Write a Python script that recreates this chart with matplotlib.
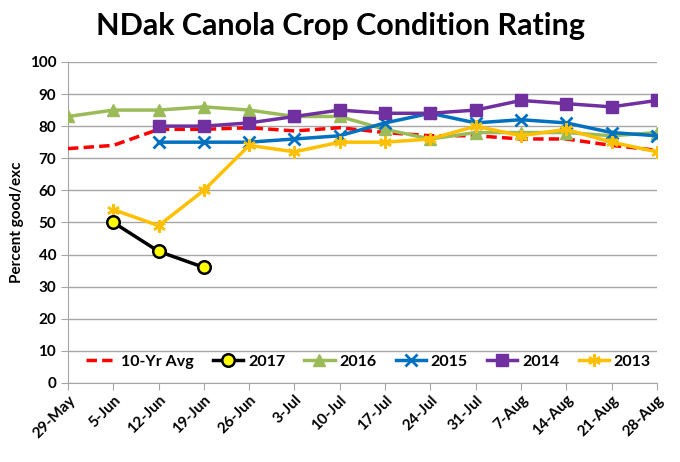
import numpy as np
import matplotlib.pyplot as plt

plt.rcParams['font.family'] = ['Lato', 'DejaVu Sans']

weeks = ['29-May', '5-Jun', '12-Jun', '19-Jun', '26-Jun', '3-Jul', '10-Jul',
         '17-Jul', '24-Jul', '31-Jul', '7-Aug', '14-Aug', '21-Aug', '28-Aug']
nan = np.nan
avg10 = [73, 74, 79, 79, 79.5, 78.5, 79.5, 78, 77, 77, 76, 76, 74, 72.5]
y2017 = [nan, 50, 41, 36, nan, nan, nan, nan, nan, nan, nan, nan, nan, nan]
y2016 = [83, 85, 85, 86, 85, 83, 83, 79, 76, 78, 78, 78, 77, 78]
y2015 = [nan, nan, 75, 75, 75, 76, 77, 81, 84, 81, 82, 81, 78, 77]
y2014 = [nan, nan, 80, 80, 81, 83, 85, 84, 84, 85, 88, 87, 86, 88]
y2013 = [nan, 54, 49, 60, 74, 72, 75, 75, 76, 80, 77, 79, 75, 72]

x = np.arange(len(weeks))

fig = plt.figure(figsize=(6.8, 4.62), dpi=100)
ax = fig.add_axes([0.1, 0.171, 0.866, 0.695])

ax.plot(x, avg10, color='#FF0000', lw=2.5, ls=(0, (3, 1.5)), label='10-Yr Avg', zorder=3)
ax.plot(x, y2017, color='black', lw=2.5, marker='o', ms=9, mfc='#FFFF00',
        mec='black', mew=1.8, label='2017', zorder=5)
ax.plot(x, y2016, color='#9BBB59', lw=2.5, marker='^', ms=8, label='2016', zorder=3)
ax.plot(x, y2015, color='#0070C0', lw=2.5, marker='x', ms=9, mew=2, label='2015', zorder=3)
ax.plot(x, y2014, color='#7030A0', lw=2.5, marker='s', ms=8, label='2014', zorder=4)
ax.plot(x, y2013, color='#FFC000', lw=2.5, marker=(6, 2, 0), ms=9, mew=1.8,
        mec='#FFC000', label='2013', zorder=4)

ax.set_xlim(0, len(weeks) - 1)
ax.set_ylim(0, 100)
ax.set_yticks(range(0, 101, 10))
ax.set_xticks(x)
ax.set_xticklabels(weeks, rotation=45, ha='right', rotation_mode='anchor',
                   fontsize=11, fontweight='bold')
for lab in ax.get_yticklabels():
    lab.set_fontsize(11)
    lab.set_fontweight('bold')
ax.grid(axis='y', color='#A6A6A6', lw=1)
ax.set_axisbelow(True)
for s in ['top', 'right']:
    ax.spines[s].set_visible(False)
for s in ['left', 'bottom']:
    ax.spines[s].set_color('#A6A6A6')
ax.tick_params(axis='x', length=5, color='#A6A6A6', pad=2)
ax.tick_params(axis='y', length=5, color='#A6A6A6')

ax.set_ylabel('Percent good/exc', fontsize=11, fontweight='bold')
fig.suptitle('NDak Canola Crop Condition Rating', fontsize=22, fontweight='bold', y=0.975)

ax.legend(loc='lower center', bbox_to_anchor=(0.51, 0.0), ncol=6, frameon=False,
          prop={'size': 11.5, 'weight': 'bold'}, handlelength=1.9,
          handletextpad=0.3, columnspacing=1.2)

fig.savefig('out.png', dpi=100)
